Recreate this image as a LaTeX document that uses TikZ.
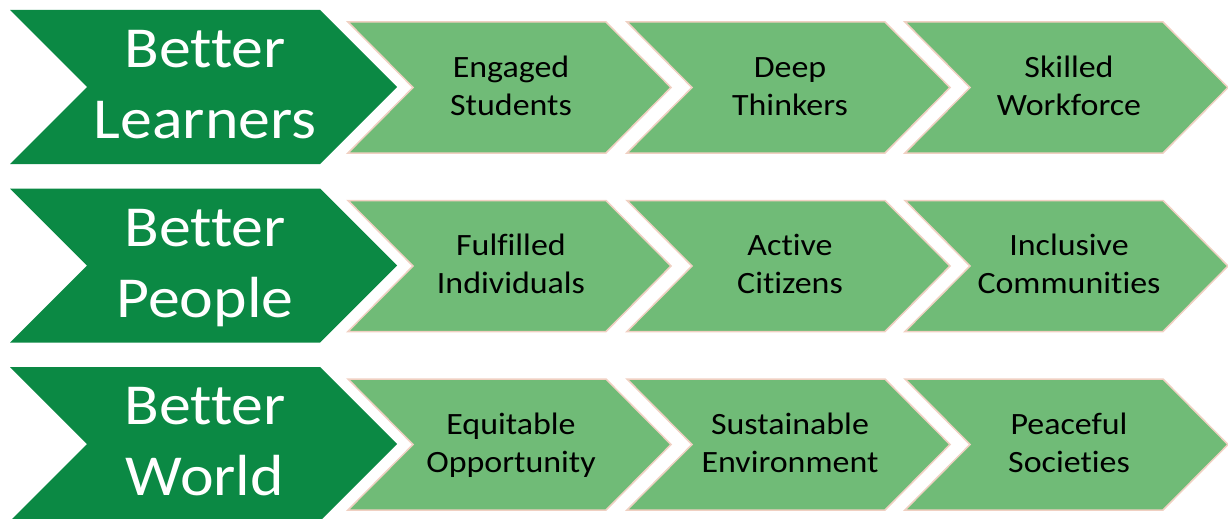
\documentclass[tikz,border=0pt]{standalone}
\usepackage{fontspec}
\setmainfont{Carlito}[Ligatures=NoCommon]
\definecolor{darkgr}{HTML}{0B8944}
\definecolor{lightgr}{HTML}{70BB77}
\definecolor{edgepink}{HTML}{F0D0C2}
\tikzset{
  bigchev/.style={fill=darkgr},
  smallchev/.style={fill=lightgr, draw=edgepink, line width=1.5pt, line join=miter},
  bigtext/.style={inner sep=0pt, text=white, align=center, xscale=1.1, font=\fontsize{58}{71}\selectfont},
  smalltext/.style={inner sep=0pt, text=black, align=center, xscale=1.095, font=\fontsize{31}{38}\selectfont},
}
\newcommand{\darkchev}[1]{%
  \path[bigchev] (10,#1) -- (320,#1) -- (397,#1+77) -- (320,#1+154) -- (10,#1+154) -- (87,#1+77) -- cycle;}
\newcommand{\lightchev}[2]{%
  \path[smallchev] (#1,#2) -- (#1+258,#2) -- (#1+323,#2+65.5) -- (#1+258,#2+131) -- (#1,#2+131) -- (#1+65,#2+65.5) -- cycle;}
\begin{document}
\begin{tikzpicture}[x=1pt,y=-1pt]
\useasboundingbox (0,0) rectangle (1228,519);
% row 1
\darkchev{10}
\lightchev{348}{22}
\lightchev{627}{22}
\lightchev{905}{22}
\node[bigtext] (r1) at (205,89) {\strut Better\\\strut Learners};
\node[smalltext] (r1a) at (511,88.5) {\strut Engaged\\\strut Students};
\node[smalltext] (r1b) at (790,88.5) {\strut Deep\\\strut Thinkers};
\node[smalltext] (r1c) at (1069,88.5) {\strut Skilled\\\strut Workforce};
% row 2
\darkchev{188.5}
\lightchev{348}{200.5}
\lightchev{627}{200.5}
\lightchev{905}{200.5}
\node[bigtext] (r2) at (205,267.5) {\strut Better\\\strut People};
\node[smalltext] (r2a) at (511,267) {\strut Fulfilled\\\strut Individuals};
\node[smalltext] (r2b) at (790,267) {\strut Active\\\strut Citizens};
\node[smalltext] (r2c) at (1069,267) {\strut Inclusive\\\strut Communities};
% row 3
\darkchev{367}
\lightchev{348}{379}
\lightchev{627}{379}
\lightchev{905}{379}
\node[bigtext] (r3) at (205,446) {\strut Better\\\strut World};
\node[smalltext] (r3a) at (511,445.5) {\strut Equitable\\\strut Opportunity};
\node[smalltext] (r3b) at (790,445.5) {\strut Sustainable\\\strut Environment};
\node[smalltext] (r3c) at (1069,445.5) {\strut Peaceful\\\strut Societies};
\end{tikzpicture}
\end{document}
